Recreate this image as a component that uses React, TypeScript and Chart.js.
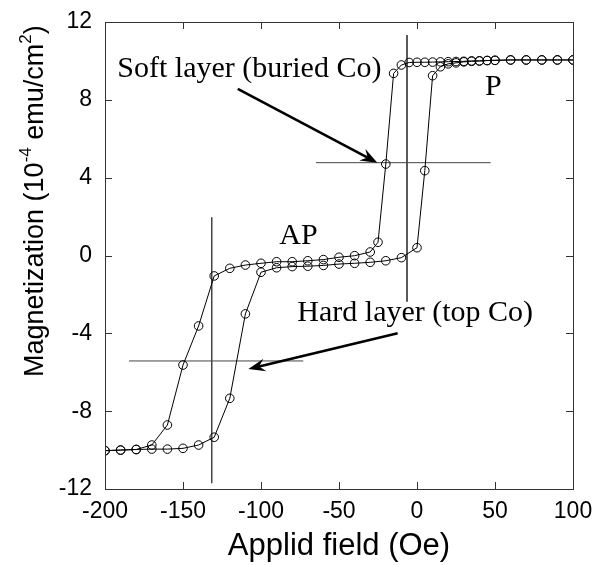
import React, { useEffect, useRef } from 'react';
import { Chart, registerables } from 'chart.js';

Chart.register(...registerables);

// Descending branch (from +100 Oe to -200 Oe)
const descField = [100, 90, 80, 70, 60, 50, 45, 40, 35, 30, 25, 20, 15, 10, 5, 0, -5, -10, -15, -20, -25, -30, -40, -50, -60, -70, -80, -90, -100, -110, -120, -130, -140, -150, -160, -170, -180, -190, -200];
const descMag = [10.05, 10.05, 10.05, 10.05, 10.05, 10.03, 10.02, 10.0, 10.0, 9.98, 9.97, 9.96, 9.95, 9.94, 9.93, 9.93, 9.92, 9.79, 9.36, 4.7, 0.68, 0.18, -0.01, -0.09, -0.21, -0.27, -0.32, -0.32, -0.4, -0.49, -0.66, -1.05, -3.62, -5.63, -8.71, -9.74, -9.97, -10.0, -10.03];

// Ascending branch (from -200 Oe to +100 Oe)
const ascField = [-200, -190, -180, -170, -160, -150, -140, -130, -120, -110, -100, -90, -80, -70, -60, -50, -40, -30, -20, -10, 0, 5, 10, 15, 20, 25, 30, 35, 40, 45, 50, 60, 70, 80, 90, 100];
const ascMag = [-10.03, -10.0, -9.97, -9.95, -9.95, -9.91, -9.74, -9.34, -7.34, -3.0, -0.86, -0.63, -0.57, -0.55, -0.51, -0.44, -0.4, -0.35, -0.27, -0.11, 0.4, 4.36, 9.24, 9.7, 9.85, 9.9, 9.95, 9.98, 10.0, 10.02, 10.03, 10.05, 10.05, 10.05, 10.05, 10.05];

// Guide lines (coercive field markers)
const guideFieldA = [-6.4, -6.4];
const guideMagA = [11.33, -2.37];
const guideFieldB = [-64.7, 47.2];
const guideMagB = [4.77, 4.77];
const guideFieldC = [-131.6, -131.6];
const guideMagC = [1.96, -11.7];
const guideFieldD = [-184.6, -72.9];
const guideMagD = [-5.42, -5.42];

// Text annotations
const noteText = ['Soft layer (buried Co)', 'P', 'AP', 'Hard layer (top Co)'];
const noteField = [-192.1, 43.6, -88.3, -76.7];
const noteMag = [9.19, 8.25, 0.58, -3.37];

// Arrows: from -> to
const arrowFromField = [-114.9, -12.4];
const arrowFromMag = [8.56, -4.0];
const arrowToField = [-25.4, -108.1];
const arrowToMag = [4.77, -5.83];

// Axis
const xMin = -200, xMax = 100, xStep = 50;
const yMin = -12, yMax = 12, yStep = 4;
const xTitle = 'Applid field (Oe)';

const SANS = "'Liberation Sans', Arial, sans-serif";
const SERIF = "'Liberation Serif', 'Times New Roman', serif";

const toPts = (xs: number[], ys: number[]) => xs.map((v, i) => ({ x: v, y: ys[i] }));

function drawArrow(ctx: CanvasRenderingContext2D, x1: number, y1: number, x2: number, y2: number) {
  const dx = x2 - x1, dy = y2 - y1;
  const len = Math.hypot(dx, dy);
  const ux = dx / len, uy = dy / len;
  const px = -uy, py = ux;
  const hl = 17, hw = 6.5, notch = 11;
  ctx.save();
  ctx.strokeStyle = '#000';
  ctx.fillStyle = '#000';
  ctx.lineWidth = 2.6;
  ctx.beginPath();
  ctx.moveTo(x1, y1);
  ctx.lineTo(x2 - ux * notch, y2 - uy * notch);
  ctx.stroke();
  ctx.beginPath();
  ctx.moveTo(x2, y2);
  ctx.lineTo(x2 - ux * hl + px * hw, y2 - uy * hl + py * hw);
  ctx.lineTo(x2 - ux * notch, y2 - uy * notch);
  ctx.lineTo(x2 - ux * hl - px * hw, y2 - uy * hl - py * hw);
  ctx.closePath();
  ctx.fill();
  ctx.restore();
}

const overlay = {
  id: 'overlay',
  afterDraw(chart: any) {
    const { ctx, chartArea: a, scales } = chart;
    const xs = scales.x, ys = scales.y;
    ctx.save();
    // frame
    ctx.strokeStyle = '#333';
    ctx.lineWidth = 1;
    ctx.strokeRect(a.left + 0.5, a.top + 0.5, a.right - a.left, a.bottom - a.top);
    // inward ticks on all four sides
    const tl = 7;
    ctx.beginPath();
    xs.ticks.forEach((t: any) => {
      const p = Math.round(xs.getPixelForValue(t.value)) + 0.5;
      ctx.moveTo(p, a.bottom);
      ctx.lineTo(p, a.bottom - tl);
      ctx.moveTo(p, a.top);
      ctx.lineTo(p, a.top + tl);
    });
    ys.ticks.forEach((t: any) => {
      const p = Math.round(ys.getPixelForValue(t.value)) + 0.5;
      ctx.moveTo(a.left, p);
      ctx.lineTo(a.left + tl, p);
      ctx.moveTo(a.right, p);
      ctx.lineTo(a.right - tl, p);
    });
    ctx.stroke();

    // annotations text
    ctx.fillStyle = '#000';
    ctx.font = `30px ${SERIF}`;
    ctx.textAlign = 'left';
    ctx.textBaseline = 'alphabetic';
    noteText.forEach((txt, i) => {
      ctx.fillText(txt, xs.getPixelForValue(noteField[i]), ys.getPixelForValue(noteMag[i]));
    });

    // arrows
    arrowFromField.forEach((_, i) => {
      drawArrow(
        ctx,
        xs.getPixelForValue(arrowFromField[i]),
        ys.getPixelForValue(arrowFromMag[i]),
        xs.getPixelForValue(arrowToField[i]),
        ys.getPixelForValue(arrowToMag[i])
      );
    });

    // y axis title with superscripts
    ctx.save();
    ctx.translate(43, 377);
    ctx.rotate(-Math.PI / 2);
    ctx.textAlign = 'left';
    ctx.textBaseline = 'alphabetic';
    const big = `27px ${SANS}`;
    const small = `17px ${SANS}`;
    const parts: [string, boolean][] = [
      ['Magnetization (10', false],
      ['-4', true],
      [' emu/cm', false],
      ['2', true],
      [')', false],
    ];
    let cx = 0;
    parts.forEach(([s, sup]) => {
      ctx.font = sup ? small : big;
      ctx.fillText(s, cx, sup ? -12 : 0);
      cx += ctx.measureText(s).width;
    });
    ctx.restore();
    ctx.restore();
  },
};

export default function App() {
  const ref = useRef<HTMLCanvasElement | null>(null);

  useEffect(() => {
    document.body.style.margin = '0';
    const canvas = ref.current;
    if (!canvas) return;
    const lineDs = (xs: number[], ys: number[]) => ({
      data: toPts(xs, ys),
      showLine: true,
      borderColor: '#000',
      borderWidth: 1,
      pointRadius: 4.3,
      pointHoverRadius: 4.3,
      pointBorderWidth: 1,
      pointBorderColor: '#000',
      pointBackgroundColor: 'rgba(0,0,0,0)',
      pointStyle: 'circle',
      tension: 0,
    });
    const guideDs = (xs: number[], ys: number[]) => ({
      data: toPts(xs, ys),
      showLine: true,
      borderColor: '#444',
      borderWidth: 1,
      pointRadius: 0,
      pointHoverRadius: 0,
      tension: 0,
    });
    const chart = new Chart(canvas, {
      type: 'scatter',
      data: {
        datasets: [
          lineDs(descField, descMag),
          lineDs(ascField, ascMag),
          guideDs(guideFieldA, guideMagA),
          guideDs(guideFieldB, guideMagB),
          guideDs(guideFieldC, guideMagC),
          guideDs(guideFieldD, guideMagD),
        ] as any,
      },
      options: {
        responsive: false,
        animation: false,
        devicePixelRatio: 1,
        layout: { padding: { top: 22, right: 22, left: 0, bottom: 0 } },
        plugins: {
          legend: { display: false },
          tooltip: { enabled: false },
          title: { display: false },
        },
        scales: {
          x: {
            type: 'linear',
            min: xMin,
            max: xMax,
            ticks: {
              stepSize: xStep,
              color: '#000',
              padding: 9,
              font: { family: SANS, size: 23 },
              maxRotation: 0,
            },
            grid: { display: true, drawOnChartArea: false, drawTicks: false },
            border: { display: false },
            title: {
              display: true,
              text: xTitle,
              color: '#000',
              font: { family: SANS, size: 31 },
              padding: { top: 0, bottom: 0 },
            },
            afterFit: (s: any) => {
              s.height = 76;
              s.paddingLeft = 0;
              s.paddingRight = 0;
            },
          },
          y: {
            type: 'linear',
            min: yMin,
            max: yMax,
            ticks: {
              stepSize: yStep,
              color: '#000',
              padding: 13,
              font: { family: SANS, size: 23 },
            },
            grid: { display: true, drawOnChartArea: false, drawTicks: false },
            border: { display: false },
            afterFit: (s: any) => {
              s.width = 105;
              s.paddingTop = 0;
              s.paddingBottom = 0;
            },
          },
        },
      },
      plugins: [overlay],
    });
    return () => chart.destroy();
  }, []);

  return (
    <div style={{ width: 595, height: 565 }}>
      <canvas ref={ref} width={595} height={565} style={{ display: 'block' }} />
    </div>
  );
}
